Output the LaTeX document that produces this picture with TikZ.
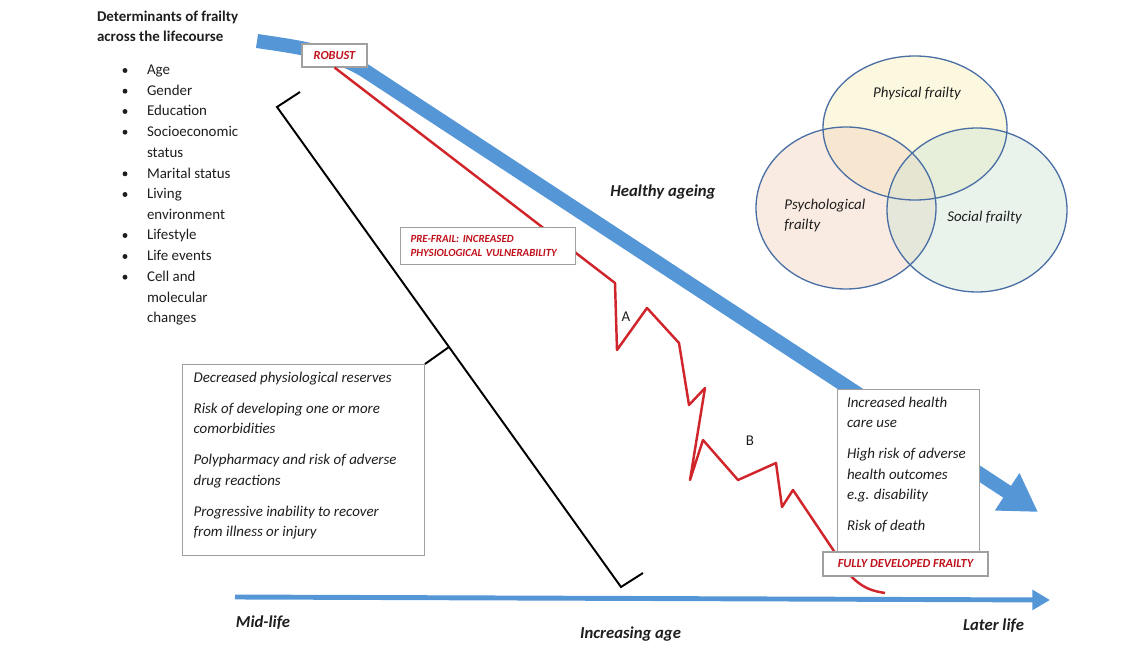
\documentclass[tikz,border=0pt]{standalone}
\usepackage{fontspec}
\setmainfont{Carlito}
\usetikzlibrary{arrows.meta, calc}

\begin{document}
\begin{tikzpicture}[x=0.02cm, y=-0.02cm,
		plain/.style={inner sep=0pt, anchor=base west, align=left, text=textgrey, font=\fontsize{8.5}{11.68}\selectfont},
		note/.style={plain, font=\fontsize{8.5}{11.68}\selectfont\itshape},
		dot/.style={circle, fill=textgrey, inner sep=0pt, minimum size=2.8pt},
		stage/.style={draw=boxgrey, line width=0.6pt, fill=white, text=redtext, inner sep=0pt, font=\fontsize{7}{8.5}\selectfont\bfseries\itshape},
		greybox/.style={draw=boxgrey, line width=0.6pt, fill=white, inner sep=0pt, anchor=north west},
		axislabel/.style={inner sep=0pt, anchor=base, text=textgrey, font=\fontsize{9.5}{11}\selectfont\bfseries\itshape},
		venntext/.style={inner sep=0pt, text=textgrey, font=\fontsize{8.5}{11.68}\selectfont\itshape},
		bracket/.style={draw=black, line width=1.1pt},
	]
		\definecolor{arrowblue}{HTML}{5596D6}
		\definecolor{redline}{HTML}{D0262B}
		\definecolor{redtext}{HTML}{C0101A}
		\definecolor{boxgrey}{HTML}{A0A0A0}
		\definecolor{textgrey}{HTML}{1E1E1E}
		\definecolor{vennblue}{HTML}{4A6FA5}
		\definecolor{physfill}{HTML}{F9EEB8}
		\definecolor{psychfill}{HTML}{F3D3BE}
		\definecolor{socfill}{HTML}{CFE4D4}
		\useasboundingbox (0,0) rectangle (1140,645);

		% multi-line texts sit on the baseline of their last line
		\node[plain, font=\fontsize{8.5}{11.35}\selectfont\bfseries] (determinants) at (96.7,41.7) {Determinants of frailty\\across the lifecourse};
		\foreach \y/\b/\txt [count=\i] in {75/75/Age, 95.7/95.7/Gender, 116/116/Education, 136.7/157.3/{Socioeconomic\\status}, 178.3/178.3/Marital status, 199/219.3/{Living\\environment}, 240/240/Lifestyle, 261/261/Life events, 281.7/322.7/{Cell and\\molecular\\changes}}{
				\node[dot] (dot\i) at (125,\y-4.5) {};
				\node[plain] (factor\i) at (146.7,\b) {\txt};
			}

		\draw[line width=8pt, draw=arrowblue, -{Triangle[length=21pt, width=24pt]}] (257,41) .. controls (290,46) and (335,51) .. (367,72) -- (1038,512);
		\draw[line width=2.8pt, draw=arrowblue, -{Triangle[length=10pt, width=11pt]}] (235,597) -- (1050,600);

		\node[stage, minimum width=1.3cm, minimum height=0.46cm] (robust) at (334.5,55.5) {ROBUST};
		\draw[redline, line width=1.4pt, line join=round] (robust.south) -- (615,283) -- (617,350) -- (647,308) -- (679,343) -- (689,405) -- (705,388) -- (690,480) -- (703,440) -- (738,480) -- (776,463) -- (782,507) -- (793,490) -- (850,575) .. controls (862,588) and (872,591) .. (885,593);
		\node[stage, anchor=north west, text width=3.1cm, inner xsep=0.2cm, minimum height=0.75cm, align=left, font=\fontsize{6.2}{8.5}\selectfont\bfseries\itshape] (prefrail) at (400,226.7) {PRE-FRAIL: INCREASED\\PHYSIOLOGICAL VULNERABILITY};
		\node[plain, anchor=center] (labelA) at (626,317) {A};
		\node[plain, anchor=center] (labelB) at (750,441) {B};

		\node[greybox, minimum width=4.84cm, minimum height=3.82cm] (reservesbox) at (182,364) {};
		\node[note] (reserves) at (193.3,536.7) {Decreased physiological reserves\\[5.9pt]Risk of developing one or more\\comorbidities\\[5.9pt]Polypharmacy and risk of adverse\\drug reactions\\[5.9pt]Progressive inability to recover\\from illness or injury};

		\node[greybox, minimum width=2.84cm, minimum height=3.26cm] (outcomebox) at (837,389) {};
		\node[note] (outcomes) at (846.7,530.7) {Increased health\\care use\\[5.9pt]High risk of adverse\\health outcomes\\e.g. disability\\[5.9pt]Risk of death};
		\node[stage, minimum width=3.3cm, minimum height=0.48cm] (fullyfrail) at (905.5,564) {FULLY DEVELOPED FRAILTY};

		\coordinate (brtop) at (277,107);
		\coordinate (brbot) at (621,587);
		\draw[bracket, line join=miter] (300,92) -- (brtop) -- (brbot) -- (643,573);
		\draw[bracket] ($(brtop)!0.5!(brbot)$) -- (reservesbox.north east);

		\begin{scope}[fill opacity=0.45]
			\fill[physfill] (915,128) ellipse [x radius=92, y radius=72];
			\fill[psychfill] (846,208) ellipse [x radius=90, y radius=81];
			\fill[socfill] (977,210) ellipse [x radius=90, y radius=82];
		\end{scope}
		\draw[vennblue, line width=0.75pt] (915,128) ellipse [x radius=92, y radius=72];
		\draw[vennblue, line width=0.75pt] (846,208) ellipse [x radius=90, y radius=81];
		\draw[vennblue, line width=0.75pt] (977,210) ellipse [x radius=90, y radius=82];
		\node[venntext, anchor=base] (physlabel) at (917,97.3) {Physical frailty};
		\node[venntext, anchor=base west, align=left] (psychlabel) at (784,230) {Psychological\\frailty};
		\node[venntext, anchor=base] (soclabel) at (984.5,221.7) {Social frailty};

		\node[axislabel] (healthy) at (663,197) {Healthy ageing};
		\node[axislabel] (midlife) at (263,627) {Mid-life};
		\node[axislabel] (agelabel) at (630.5,638) {Increasing age};
		\node[axislabel] (laterlife) at (993.5,630) {Later life};
	\end{tikzpicture}
\end{document}
